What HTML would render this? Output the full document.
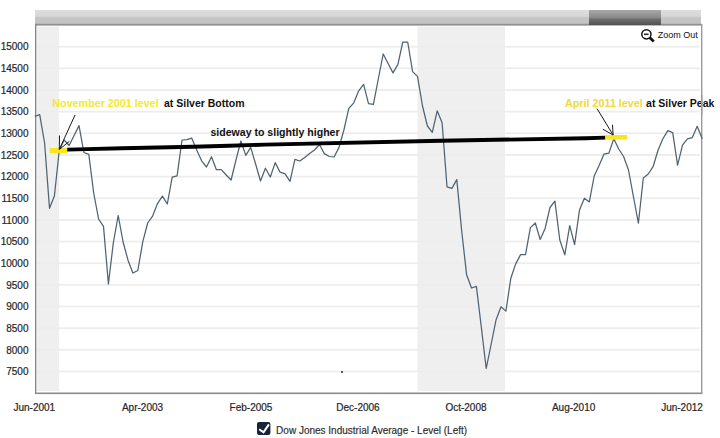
<!DOCTYPE html>
<html><head><meta charset="utf-8">
<style>
html,body{margin:0;padding:0;background:#fff;}
body{width:720px;height:438px;overflow:hidden;}
svg{display:block;}
text{font-family:"Liberation Sans",sans-serif;}
</style></head><body>
<svg width="720" height="438" viewBox="0 0 720 438">
<defs>
<linearGradient id="sbl" x1="0" y1="0" x2="0" y2="1">
<stop offset="0" stop-color="#dedede"/><stop offset="0.45" stop-color="#d6d6d6"/><stop offset="0.55" stop-color="#c6c6c6"/><stop offset="1" stop-color="#c2c2c2"/>
</linearGradient>
<linearGradient id="sbd" x1="0" y1="0" x2="0" y2="1">
<stop offset="0" stop-color="#a8a8a8"/><stop offset="0.5" stop-color="#8a8a8a"/><stop offset="0.6" stop-color="#707070"/><stop offset="1" stop-color="#505050"/>
</linearGradient>
</defs>
<!-- scrollbar -->
<rect x="35" y="10" width="666" height="14" fill="url(#sbl)"/>
<rect x="35" y="23.8" width="667" height="1.8" fill="#909090"/>
<rect x="589" y="10" width="72" height="15" fill="url(#sbd)"/>
<!-- shaded -->
<rect x="36.5" y="26.5" width="22.5" height="364.5" fill="#efefef"/>
<rect x="417.5" y="26.5" width="87.5" height="364.5" fill="#efefef"/>
<!-- grid -->
<rect x="36" y="45.80" width="664" height="1.8" fill="#ededed"/><rect x="36" y="67.45" width="664" height="1.8" fill="#ededed"/><rect x="36" y="89.10" width="664" height="1.8" fill="#ededed"/><rect x="36" y="110.75" width="664" height="1.8" fill="#ededed"/><rect x="36" y="132.40" width="664" height="1.8" fill="#ededed"/><rect x="36" y="154.05" width="664" height="1.8" fill="#ededed"/><rect x="36" y="175.70" width="664" height="1.8" fill="#ededed"/><rect x="36" y="197.35" width="664" height="1.8" fill="#ededed"/><rect x="36" y="219.00" width="664" height="1.8" fill="#ededed"/><rect x="36" y="240.65" width="664" height="1.8" fill="#ededed"/><rect x="36" y="262.30" width="664" height="1.8" fill="#ededed"/><rect x="36" y="283.95" width="664" height="1.8" fill="#ededed"/><rect x="36" y="305.60" width="664" height="1.8" fill="#ededed"/><rect x="36" y="327.25" width="664" height="1.8" fill="#ededed"/><rect x="36" y="348.90" width="664" height="1.8" fill="#ededed"/><rect x="36" y="370.55" width="664" height="1.8" fill="#ededed"/>
<!-- axes -->
<rect x="35" y="24" width="1.3" height="370" fill="#868686"/>
<rect x="35" y="392.5" width="667.4" height="1.6" fill="#8a8a8a"/>
<rect x="701" y="24" width="1.4" height="370" fill="#9a9a9a"/>
<g font-size="10" fill="#262626" stroke="#262626" stroke-width="0.2">
<text x="28.5" y="50.40" text-anchor="end">15000</text><text x="28.5" y="72.05" text-anchor="end">14500</text><text x="28.5" y="93.70" text-anchor="end">14000</text><text x="28.5" y="115.35" text-anchor="end">13500</text><text x="28.5" y="137.00" text-anchor="end">13000</text><text x="28.5" y="158.65" text-anchor="end">12500</text><text x="28.5" y="180.30" text-anchor="end">12000</text><text x="28.5" y="201.95" text-anchor="end">11500</text><text x="28.5" y="223.60" text-anchor="end">11000</text><text x="28.5" y="245.25" text-anchor="end">10500</text><text x="28.5" y="266.90" text-anchor="end">10000</text><text x="28.5" y="288.55" text-anchor="end">9500</text><text x="28.5" y="310.20" text-anchor="end">9000</text><text x="28.5" y="331.85" text-anchor="end">8500</text><text x="28.5" y="353.50" text-anchor="end">8000</text><text x="28.5" y="375.15" text-anchor="end">7500</text>
</g>
<g font-size="10" fill="#262626" stroke="#262626" stroke-width="0.2">
<text x="34.3" y="410.5" text-anchor="middle">Jun-2001</text>
<text x="142.5" y="410.5" text-anchor="middle">Apr-2003</text>
<text x="251" y="410.5" text-anchor="middle">Feb-2005</text>
<text x="358" y="410.5" text-anchor="middle">Dec-2006</text>
<text x="466" y="410.5" text-anchor="middle">Oct-2008</text>
<text x="573.6" y="410.5" text-anchor="middle">Aug-2010</text>
<text x="682" y="410.5" text-anchor="middle">Jun-2012</text>
</g>
<!-- data line -->
<path d="M34.8,116.4 L39.7,114.7 L44.6,143.0 L49.5,208.3 L54.4,196.0 L59.3,150.0 L64.2,140.0 L69.1,145.5 L74.1,135.5 L79.0,125.6 L83.9,152.5 L88.8,154.4 L93.7,193.0 L98.6,219.0 L103.5,226.4 L108.4,284.0 L113.3,243.0 L118.2,215.5 L123.1,242.0 L128.0,260.2 L132.9,273.0 L137.8,270.5 L142.8,241.7 L147.7,223.0 L152.6,216.1 L157.5,203.6 L162.4,196.1 L167.3,204.0 L172.2,177.1 L177.1,175.8 L182.0,140.0 L186.9,139.7 L191.8,138.2 L196.7,150.0 L201.6,160.8 L206.5,167.0 L211.5,156.7 L216.4,169.7 L221.3,169.7 L226.2,175.0 L231.1,180.0 L236.0,160.0 L240.9,141.0 L245.8,155.4 L250.7,147.4 L255.6,164.0 L260.5,181.0 L265.4,168.2 L270.3,177.0 L275.2,162.6 L280.1,172.2 L285.1,173.8 L290.0,181.3 L294.9,159.4 L299.8,161.0 L304.7,157.6 L309.6,153.6 L314.5,150.0 L319.4,144.5 L324.3,153.6 L329.2,156.5 L334.1,157.0 L339.0,147.4 L343.9,130.0 L348.8,108.4 L353.8,102.8 L358.7,90.8 L363.6,84.4 L368.5,103.6 L373.4,104.4 L378.3,79.0 L383.2,54.0 L388.1,63.5 L393.0,72.9 L397.9,64.4 L402.8,42.0 L407.7,42.0 L412.6,71.6 L417.5,76.4 L422.5,106.0 L427.4,126.0 L432.3,132.4 L437.2,110.8 L442.1,122.8 L447.0,186.8 L451.9,188.4 L456.8,179.6 L461.7,231.0 L466.6,274.7 L471.5,288.0 L476.4,286.4 L481.3,327.0 L486.2,368.5 L491.2,344.0 L496.1,319.7 L501.0,306.8 L505.9,311.1 L510.8,278.3 L515.7,263.9 L520.6,254.6 L525.5,254.6 L530.4,227.6 L535.3,223.0 L540.2,239.5 L545.1,228.5 L550.0,207.5 L554.9,201.1 L559.8,240.0 L564.8,254.8 L569.7,225.6 L574.6,244.7 L579.5,210.1 L584.4,198.2 L589.3,201.9 L594.2,176.0 L599.1,165.4 L604.0,154.1 L608.9,153.1 L613.8,138.7 L618.7,149.0 L623.6,156.5 L628.5,170.0 L633.5,197.0 L638.4,223.2 L643.3,178.0 L648.2,174.0 L653.1,166.7 L658.0,150.3 L662.9,138.8 L667.8,130.6 L672.7,132.6 L677.6,165.2 L682.5,145.1 L687.4,138.8 L692.3,137.6 L697.2,126.3 L702.2,138.8" fill="none" stroke="#4f6373" stroke-width="1.25" stroke-linejoin="round"/>
<!-- thick black line -->
<path d="M67,149.6 L87,149.1 L122,148.2 L193,146.7 L229,145.7 L265,144.6 L441,140.8 L586,138.2 L605.5,137.6" fill="none" stroke="#000" stroke-width="3.9"/>
<!-- yellow bars -->
<rect x="49.7" y="148" width="17.5" height="5" fill="#f8e71c"/>
<rect x="605.2" y="135" width="22" height="4.6" fill="#f8e71c"/>
<!-- arrows -->
<g stroke="#1a1a1a" stroke-width="1" fill="none">
<path d="M75,115 L59.3,149.5 M59.5,135.5 L59.3,149.5 L69.4,141.3"/>
<path d="M597.1,108.7 L613.1,135 M612.5,124.7 L613.1,135 L602.8,129.2"/>
</g>
<!-- annotations -->
<g font-weight="bold" font-size="10.5">
<text x="52.3" y="107" fill="#f6e82a" textLength="106.4" lengthAdjust="spacingAndGlyphs">November 2001 level</text>
<text x="164" y="107" fill="#111">at Silver Bottom</text>
<text x="210.4" y="135.5" fill="#111" textLength="129.2" lengthAdjust="spacingAndGlyphs">sideway to slightly higher</text>
<text x="565" y="107" fill="#f0da38" textLength="77.8" lengthAdjust="spacingAndGlyphs">April 2011 level</text>
<text x="646.1" y="107" fill="#111">at Silver Peak</text>
</g>
<!-- right border redrawn over text -->
<rect x="701" y="95" width="1.4" height="20" fill="#9a9a9a"/>
<!-- zoom out -->
<g stroke="#222" fill="none">
<circle cx="646.4" cy="34.3" r="4.6" stroke-width="1.5" stroke="#111"/>
<path d="M649.6,37.6 L653.8,41.6" stroke-width="2.7" stroke="#111"/>
<path d="M644,34.3 L648.6,34.3" stroke-width="1.5" stroke="#222"/>
</g>
<text x="657.8" y="38.2" font-size="9" fill="#111">Zoom Out</text>
<!-- dot -->
<rect x="341" y="371" width="2" height="2" fill="#555"/>
<!-- legend -->
<rect x="257" y="422" width="13.4" height="13" rx="2" fill="#18233c"/>
<path d="M259.2,429.3 L263.5,432.4 L268.9,424.4" stroke="#fff" stroke-width="2" fill="none"/>
<text x="276.1" y="434.2" font-size="10" fill="#2a2a2a" stroke="#2a2a2a" stroke-width="0.15">Dow Jones Industrial Average - Level (Left)</text>
</svg>
</body></html>
